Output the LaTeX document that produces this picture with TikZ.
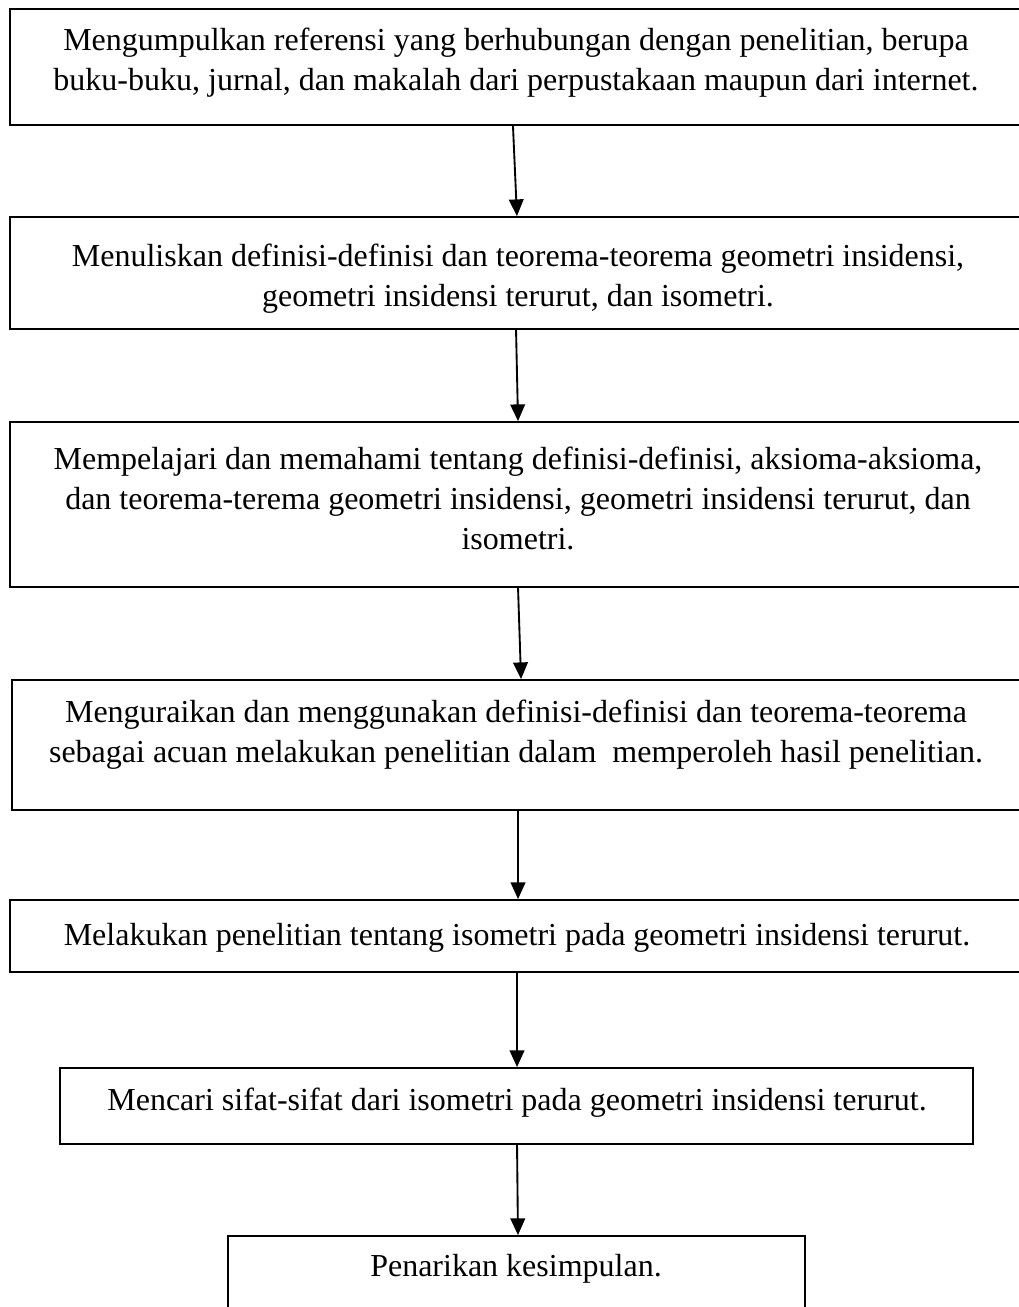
\documentclass[tikz,border=0pt]{standalone}
\usepackage{fontspec}
\setmainfont{Liberation Serif}
\usetikzlibrary{arrows.meta}
\begin{document}
\begin{tikzpicture}[x=0.75pt,y=-0.75pt,
  stepbox/.style={draw=black,line width=1.4pt,rectangle,inner sep=0pt,fill=none},
  steptext/.style={anchor=north,inner sep=0pt,align=center,font=\fontsize{24}{30}\selectfont},
  arr/.style={line width=1.4pt,-{Triangle[width=11pt,length=12.5pt]}}]
\useasboundingbox (0,0) rectangle (1019,1307);
\clip (0,0) rectangle (1019,1307);
\fill[white] (0,0) rectangle (1019,1307);
% boxes
\node[stepbox,minimum width=761.25pt,minimum height=87pt] (b1) at (517.5,67) {};
\node[stepbox,minimum width=761.25pt,minimum height=84pt] (b2) at (517.5,273) {};
\node[stepbox,minimum width=761.25pt,minimum height=123.75pt] (b3) at (517.5,504.5) {};
\node[stepbox,minimum width=759.75pt,minimum height=97.5pt] (b4) at (518.5,745) {};
\node[stepbox,minimum width=761.25pt,minimum height=54pt] (b5) at (517.5,936) {};
\node[stepbox,minimum width=684.75pt,minimum height=57pt] (b6) at (516.5,1106) {};
\node[stepbox,minimum width=432.75pt,minimum height=70.5pt] (b7) at (516.5,1283) {};
% texts
\node[steptext] (t1) at (516,22) {\strut Mengumpulkan referensi yang berhubungan dengan penelitian, berupa\\buku-buku, jurnal, dan makalah dari perpustakaan maupun dari internet.};
\node[steptext] (t2) at (518,238) {\strut Menuliskan definisi-definisi dan teorema-teorema geometri insidensi,\\geometri insidensi terurut, dan isometri.};
\node[steptext] (t3) at (518,441) {\strut Mempelajari dan memahami tentang definisi-definisi, aksioma-aksioma,\\dan teorema-terema geometri insidensi, geometri insidensi terurut, dan\\isometri.};
\node[steptext] (t4) at (516,694) {\strut Menguraikan dan menggunakan definisi-definisi dan teorema-teorema\\sebagai acuan melakukan penelitian dalam~ memperoleh hasil penelitian.};
\node[steptext] (t5) at (517,917) {\strut Melakukan penelitian tentang isometri pada geometri insidensi terurut.};
\node[steptext] (t6) at (517,1082) {\strut Mencari sifat-sifat dari isometri pada geometri insidensi terurut.};
\node[steptext] (t7) at (516,1248) {\strut Penarikan kesimpulan.};
% arrows
\draw[arr] ([xshift=-3.4pt]b1.south) -- ([xshift=-0.4pt]b2.north);
\draw[arr] ([xshift=-1.1pt]b2.south) -- ([xshift=0.4pt]b3.north);
\draw[arr] ([xshift=0.4pt]b3.south) -- ([xshift=1.9pt]b4.north);
\draw[arr] ([xshift=-0.4pt]b4.south) -- ([xshift=0.4pt]b5.north);
\draw[arr] ([xshift=-0.4pt]b5.south) -- ([xshift=0.4pt]b6.north);
\draw[arr] ([xshift=0.4pt]b6.south) -- ([xshift=1.1pt]b7.north);
\end{tikzpicture}
\end{document}
